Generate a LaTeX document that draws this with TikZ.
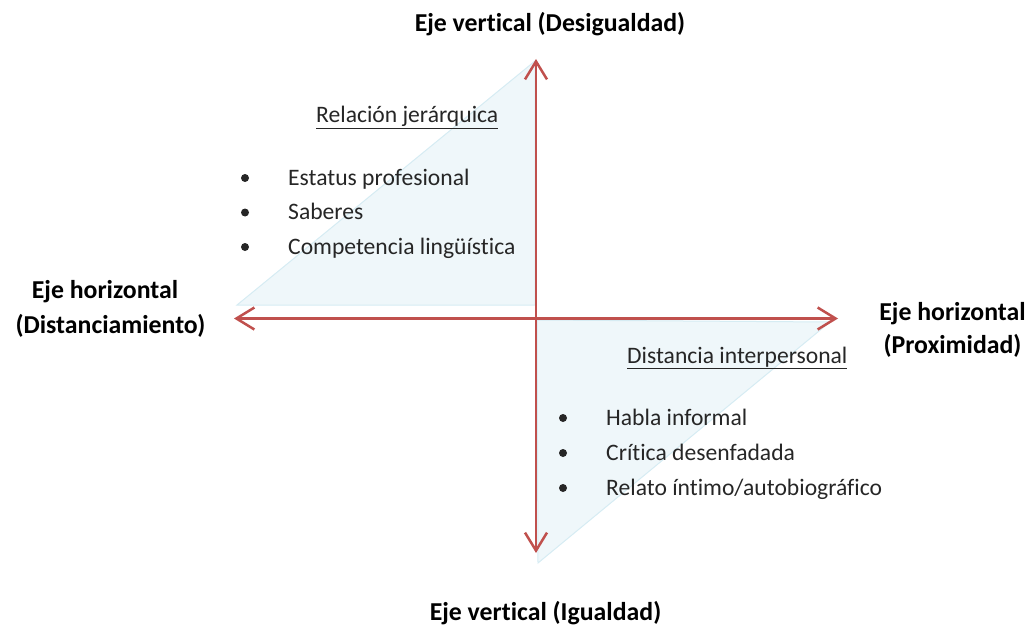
\documentclass[tikz,border=0pt]{standalone}
\usepackage{fontspec}
\setmainfont{Carlito}[Ligatures={NoCommon}]
\usetikzlibrary{arrows.meta}
\definecolor{axisred}{RGB}{192,80,77}
\definecolor{trifill}{RGB}{239,247,250}
\definecolor{triedge}{RGB}{214,236,243}
\definecolor{bodytxt}{RGB}{38,38,38}
\tikzset{
  axis/.style={draw=axisred, line width=2.5pt, {Straight Barb[length=18pt,width=22pt]}-{Straight Barb[length=18pt,width=22pt]}},
  tri/.style={fill=trifill, draw=triedge, line width=1pt},
  title/.style={anchor=base, inner sep=0pt, font=\fontsize{25.8pt}{30pt}\selectfont\bfseries, text=black},
  body/.style={anchor=base west, inner sep=0pt, font=\fontsize{23.6pt}{28pt}\selectfont, text=bodytxt},
  dot/.style={circle, fill=bodytxt, inner sep=0pt, minimum size=8pt}
}
\begin{document}
\begin{tikzpicture}[x=1pt,y=-1pt]
\useasboundingbox (0,0) rectangle (1029,634);
% triangles
\draw[tri] (535,61) -- (237,305) -- (535,305) -- cycle;
\draw[tri] (537,320) -- (830,322) -- (538,563) -- cycle;
% axes
\coordinate (top) at (536,59);
\coordinate (bot) at (536,553);
\coordinate (left) at (234,318.5);
\coordinate (right) at (838,318.5);
\draw[axis] (left) -- (right);
\draw[axis] (bot) -- (top);
% titles
\node[title] (tUp) at (550,32) {Eje vertical (Desigualdad)};
\node[title] (tDown) at (545.5,620) {Eje vertical (Igualdad)};
\node[title] (tL1) at (105,298) {Eje horizontal};
\node[title] (tL2) at (110.5,333) {(Distanciamiento)};
\node[title] (tR1) at (952.5,320) {Eje horizontal};
\node[title] (tR2) at (952.5,353) {(Proximidad)};
% upper-left list
\node[body] (h1) at (316,122.5) {\underline{Relación jerárquica}};
\node[dot] (b1) at (245,178) {};
\node[body] (i1) at (288,185) {Estatus profesional};
\node[dot] (b2) at (245,212.5) {};
\node[body] (i2) at (288,219.5) {Saberes};
\node[dot] (b3) at (245,247) {};
\node[body] (i3) at (288,254) {Competencia lingüística};
% lower-right list
\node[body] (h2) at (627,363) {\underline{Distancia interpersonal}};
\node[dot] (c1) at (563,418) {};
\node[body] (j1) at (606,425) {Habla informal};
\node[dot] (c2) at (563,453) {};
\node[body] (j2) at (606,460) {Crítica desenfadada};
\node[dot] (c3) at (563,488) {};
\node[body] (j3) at (606,495) {Relato íntimo/autobiográfico};
\end{tikzpicture}
\end{document}
